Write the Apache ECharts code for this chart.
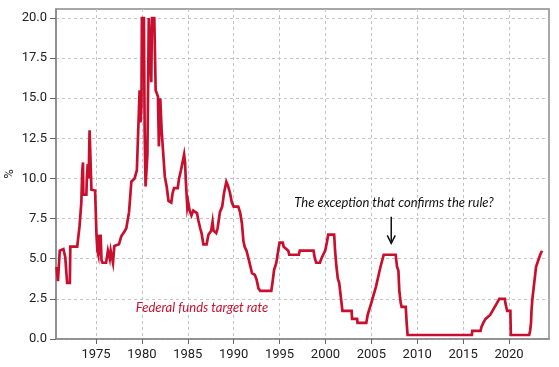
<!DOCTYPE html>
<html>
<head>
<meta charset="utf-8">
<script src="https://cdn.jsdelivr.net/npm/echarts@6/dist/echarts.min.js"></script>
<style>html,body{margin:0;padding:0;background:#fff}#c{width:559px;height:367px}</style>
</head>
<body>
<div id="c"></div>
<script>
// Federal funds target rate
const years = [
  1970.70,1970.85,1971.00,1971.05,1971.45,1971.65,1971.75,1971.85,1972.15,1972.20,
  1972.95,1973.20,1973.40,1973.50,1973.58,1973.62,1973.95,1974.00,1974.10,1974.20,
  1974.30,1974.45,1974.50,1974.90,1975.05,1975.15,1975.25,1975.32,1975.40,1975.50,
  1975.60,1975.70,1976.10,1976.30,1976.50,1976.60,1976.85,1977.00,1977.50,1977.75,
  1978.10,1978.30,1978.60,1978.85,1979.20,1979.45,1979.65,1979.75,1979.85,1979.95,
  1980.00,1980.22,1980.30,1980.40,1980.50,1980.60,1980.75,1980.95,1981.02,1981.10,
  1981.35,1981.50,1981.75,1981.85,1981.95,1982.00,1982.10,1982.15,1982.35,1982.50,
  1982.70,1982.90,1983.20,1983.35,1983.50,1983.90,1984.05,1984.25,1984.45,1984.60,
  1984.70,1984.80,1984.95,1985.05,1985.20,1985.40,1985.60,1986.00,1986.15,1986.35,
  1986.50,1986.70,1987.05,1987.25,1987.55,1987.70,1987.80,1988.10,1988.25,1988.50,
  1988.75,1988.95,1989.20,1989.35,1989.60,1989.80,1990.00,1990.50,1990.70,1990.90,
  1991.06,1991.20,1991.40,1991.75,1992.00,1992.30,1992.50,1992.70,1992.90,1994.10,
  1994.25,1994.40,1994.65,1994.85,1995.00,1995.35,1995.45,1995.95,1996.05,1997.10,
  1997.20,1998.70,1998.85,1999.00,1999.40,1999.55,1999.75,1999.97,2000.15,2000.30,
  2000.95,2001.05,2001.20,2001.35,2001.50,2001.70,2001.85,2002.85,2002.90,2003.45,
  2003.50,2004.45,2004.60,2005.00,2005.50,2006.00,2006.35,2007.65,2007.80,2007.95,
  2008.05,2008.20,2008.30,2008.75,2008.85,2008.95,2015.95,2016.00,2016.90,2017.00,
  2017.20,2017.45,2017.95,2018.20,2018.45,2018.70,2018.95,2019.55,2019.60,2019.70,
  2019.80,2020.15,2020.20,2022.20,2022.30,2022.40,2022.45,2022.55,2022.70,2022.85,
  2022.95,2023.10,2023.25,2023.40,2023.60
];
const rates = [
  4.5,3.6,3.5,5.5,5.6,5.1,5.0,3.5,3.5,5.75,
  5.75,7.0,8.5,10.5,11.0,9.0,9.0,10.0,10.9,10.0,
  13.0,13.0,9.3,9.25,6.5,5.5,5.25,6.5,5.2,6.5,
  4.9,4.75,4.75,5.5,5.0,5.5,4.75,5.8,5.9,6.4,
  6.7,6.9,7.9,9.8,10.0,10.5,10.5,15.5,13.5,14.5,
  20.0,20.0,13.0,9.5,9.5,11.5,20.0,20.0,16.0,20.0,
  20.0,15.5,15.1,12.0,12.0,15.0,15.0,13.0,13.0,10.1,
  9.5,8.6,8.5,9.1,9.4,9.4,10.0,10.5,10.5,11.5,
  11.0,9.7,8.2,8.5,8.0,7.7,8.0,7.85,7.4,6.9,
  6.6,5.9,5.9,6.5,6.75,7.3,6.75,6.6,6.9,7.9,
  8.25,9.1,9.8,9.6,9.1,8.5,8.25,8.25,7.9,7.2,
  6.1,5.75,5.5,4.7,4.1,4.0,3.7,3.15,3.0,3.0,
  3.6,4.3,4.75,5.5,6.0,6.0,5.75,5.5,5.25,5.25,
  5.5,5.5,5.0,4.75,4.75,5.0,5.25,5.5,6.0,6.5,
  6.5,5.5,4.5,3.75,3.5,2.5,1.75,1.75,1.25,1.25,
  1.0,1.0,1.5,2.25,3.25,4.5,5.25,5.25,4.5,4.25,
  3.0,2.25,2.0,2.0,1.0,0.25,0.25,0.5,0.5,0.75,
  1.0,1.25,1.5,1.75,2.0,2.25,2.5,2.5,2.25,2.0,
  1.75,1.75,0.25,0.25,0.5,1.0,1.75,2.5,3.25,4.0,
  4.5,4.75,5.0,5.25,5.5
];
const xTicks = [1975,1980,1985,1990,1995,2000,2005,2010,2015,2020];
const yTicks = [0,2.5,5,7.5,10,12.5,15,17.5,20];
const yUnit = '%';
const seriesName = 'Federal funds target rate';
const annotation = 'The exception that confirms the rule?';
const arrowAt = [2007.17, 7.62, 5.96];

const FONT = 'Roboto, "Liberation Sans", sans-serif';
const IFONT = 'Lato, Roboto, sans-serif';
const RED = '#c8102e';
const chart = echarts.init(document.getElementById('c'));
const gridLine = {show:true, lineStyle:{color:'#c4c4c4', type:[3,3], width:1}};
chart.setOption({
  animation:false,
  backgroundColor:'#fff',
  grid:{left:56, right:10, top:9, bottom:28, show:true, borderColor:'#8a8a8a', borderWidth:1.5,
        containLabel:false, outerBoundsMode:'none'},
  xAxis:{
    type:'value', min:1970.64, max:2024.36,
    axisLine:{lineStyle:{color:'#8a8a8a', width:1.5}},
    axisTick:{customValues:xTicks, length:5, lineStyle:{color:'#666'}},
    axisLabel:{customValues:xTicks, formatter:v=>String(v), color:'#222', fontFamily:FONT, fontSize:13, margin:9},
    splitLine:gridLine
  },
  yAxis:{
    type:'value', min:0, max:20.56,
    axisLine:{show:true, lineStyle:{color:'#8a8a8a', width:1.5}},
    axisTick:{show:true, customValues:yTicks, length:6, lineStyle:{color:'#666'}},
    axisLabel:{customValues:yTicks, formatter:v=>v.toFixed(1), color:'#222', fontFamily:FONT, fontSize:13, margin:9},
    splitLine:gridLine
  },
  series:[{
    name:seriesName, type:'line', showSymbol:false,
    data:years.map((y,i)=>[y, rates[i]]),
    lineStyle:{color:RED, width:2.7, join:'miter'},
    itemStyle:{color:RED}
  }]
});
const p1 = chart.convertToPixel({gridIndex:0}, [arrowAt[0], arrowAt[1]]);
const p2 = chart.convertToPixel({gridIndex:0}, [arrowAt[0], arrowAt[2]]);
chart.setOption({
  graphic:[
    {type:'text', x:10, y:174, rotation:Math.PI/2, style:{text:yUnit, x:0, y:0, align:'center', verticalAlign:'middle',
      font:'13px ' + FONT, fill:'#222'}},
    {type:'text', style:{text:annotation, x:394, y:203, align:'center', verticalAlign:'middle',
      font:'italic 13px ' + IFONT, fill:'#111'}},
    {type:'text', style:{text:seriesName, x:202, y:308, align:'center', verticalAlign:'middle',
      font:'italic 13px ' + IFONT, fill:RED}},
    {type:'line', shape:{x1:p1[0], y1:p1[1], x2:p2[0], y2:p2[1]}, style:{stroke:'#111', lineWidth:1.5}},
    {type:'polyline', shape:{points:[[p2[0]-4, p2[1]-8],[p2[0], p2[1]],[p2[0]+4, p2[1]-8]]}, style:{stroke:'#111', lineWidth:1.5, fill:null}}
  ]
});
</script>
</body>
</html>
